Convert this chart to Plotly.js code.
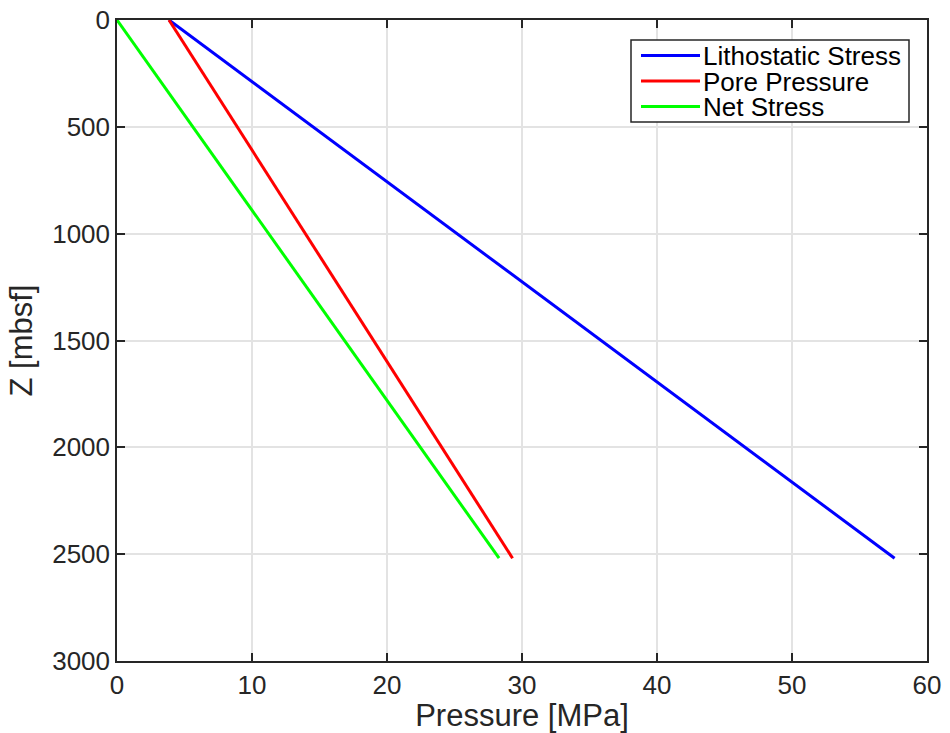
<!DOCTYPE html>
<html>
<head>
<meta charset="utf-8">
<script src="https://cdn.plot.ly/plotly-3.0.1.min.js"></script>
<style>html,body{margin:0;padding:0;background:#fff;}#chart{width:950px;height:733px;}</style>
</head>
<body>
<div id="chart"></div>
<script>
// Depth (mbsf) and pressures (MPa)
const depth = [0, 2519];
const lithostatic = [3.85, 57.6];
const porePressure = [3.85, 29.3];
const netStress = [0, 28.3];
const seriesNames = ["Lithostatic Stress", "Pore Pressure", "Net Stress"];
const seriesColors = ["#0000ff", "#ff0000", "#00ff00"];
const xTicks = [0, 10, 20, 30, 40, 50, 60];
const yTicks = [0, 500, 1000, 1500, 2000, 2500, 3000];

const font = "Liberation Sans, Arial, sans-serif";
const seriesValues = [lithostatic, porePressure, netStress];
const traces = seriesValues.map((vals, i) => ({
  x: vals, y: depth, name: seriesNames[i], mode: "lines",
  line: {color: seriesColors[i], width: 3}, showlegend: false
}));

// Legend drawn in plot-area (paper) fractions to match the compact MATLAB legend
const M = {l: 117, r: 23, t: 20, b: 72};
const W = 950, H = 733;
const pw = W - M.l - M.r, ph = H - M.t - M.b;
const fx = px => (px - M.l) / pw;
const fy = py => (H - M.b - py) / ph;
const shapes = [{
  type: "rect", xref: "paper", yref: "paper", layer: "above",
  x0: fx(631), x1: fx(909), y0: fy(122), y1: fy(40),
  line: {color: "#262626", width: 1.5}, fillcolor: "#ffffff"
}];
const annotations = [];
const rowY = [55.5, 81, 106.5];
seriesNames.forEach((name, i) => {
  shapes.push({
    type: "line", xref: "paper", yref: "paper", layer: "above",
    x0: fx(641), x1: fx(700), y0: fy(rowY[i]), y1: fy(rowY[i]),
    line: {color: seriesColors[i], width: 3}
  });
  annotations.push({
    xref: "paper", yref: "paper", x: fx(702), y: fy(rowY[i]),
    xanchor: "left", yanchor: "middle", showarrow: false, text: name,
    height: 25, borderpad: 0, valign: "middle",
    font: {family: font, size: 26, color: "#000"}
  });
});

const axisCommon = {
  showline: true, linecolor: "#262626", linewidth: 1.5, mirror: "ticks",
  ticks: "inside", ticklen: 8, tickcolor: "#262626", tickwidth: 1.5,
  showgrid: true, gridcolor: "#e3e3e3", gridwidth: 1.5, zeroline: false,
  tickfont: {family: font, size: 26, color: "#262626"}
};
const layout = {
  width: W, height: H, margin: M,
  paper_bgcolor: "#fff", plot_bgcolor: "#fff",
  showlegend: false,
  xaxis: Object.assign({}, axisCommon, {
    range: [0, 60], tickvals: xTicks, ticktext: xTicks.map(String),
    title: {text: "Pressure [MPa]", font: {family: font, size: 31, color: "#262626"}, standoff: 0}
  }),
  yaxis: Object.assign({}, axisCommon, {
    range: [3000, 0], tickvals: yTicks, ticktext: yTicks.map(String),
    title: {text: "Z [mbsf]", font: {family: font, size: 31, color: "#262626"}, standoff: 10}
  }),
  shapes: shapes,
  annotations: annotations
};
Plotly.newPlot("chart", traces, layout, {displayModeBar: false});
</script>
</body>
</html>
